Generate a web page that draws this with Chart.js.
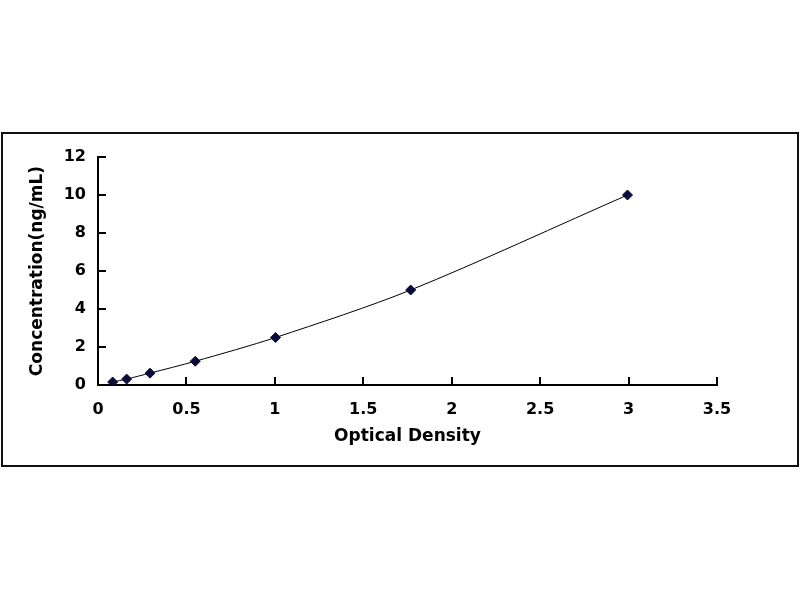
<!DOCTYPE html>
<html>
<head>
<meta charset="utf-8">
<script src="https://cdn.jsdelivr.net/npm/chart.js@4.4.1/dist/chart.umd.min.js"></script>
<style>
  html, body { margin: 0; padding: 0; background: #fff; }
  #wrap { position: relative; width: 800px; height: 600px; }
  #frame {
    position: absolute; left: 1px; top: 132px; width: 794px; height: 331px;
    border: 2px solid #111; pointer-events: none;
  }
</style>
</head>
<body>
<div id="wrap">
  <canvas id="curve" width="800" height="600"></canvas>
  <div id="frame"></div>
</div>
<script>
// standard curve readings
var opticalDensity = [0.083, 0.162, 0.294, 0.55, 1.004, 1.768, 2.994];
var concentration = [0.156, 0.312, 0.625, 1.25, 2.5, 5, 10];

// axis ticks
var xTickValues = [0, 0.5, 1, 1.5, 2, 2.5, 3, 3.5];
var yTickValues = [0, 2, 4, 6, 8, 10, 12];

var points = opticalDensity.map(function (od, i) {
    return { x: od, y: concentration[i] };
});

// short tick marks drawn inward from the axis lines
var innerTicks = {
    id: 'innerTicks',
    afterDraw: function (chart) {
        var ctx = chart.ctx;
        var xs = chart.scales.x, ys = chart.scales.y;
        ctx.save();
        ctx.strokeStyle = '#000';
        ctx.lineWidth = 2;
        ctx.beginPath();
        xs.ticks.forEach(function (t) {
            var px = Math.round(xs.getPixelForValue(t.value));
            ctx.moveTo(px, ys.bottom);
            ctx.lineTo(px, ys.bottom - 8);
        });
        ys.ticks.forEach(function (t) {
            var py = Math.round(ys.getPixelForValue(t.value));
            ctx.moveTo(xs.left, py);
            ctx.lineTo(xs.left + 8, py);
        });
        ctx.stroke();
        ctx.restore();
    }
};

var tickFont = { family: 'DejaVu Sans', size: 16, weight: 'bold' };
var titleFont = { family: 'DejaVu Sans', size: 17, weight: 'bold' };

new Chart(document.getElementById('curve').getContext('2d'), {
    type: 'scatter',
    data: {
        datasets: [{
            data: points,
            showLine: true,
            tension: 0.3,
            borderColor: '#000',
            borderWidth: 1,
            pointStyle: 'rectRot',
            pointRadius: 5,
            pointBackgroundColor: '#0b0b3b',
            pointBorderColor: '#0b0b3b',
            pointBorderWidth: 1
        }]
    },
    options: {
        responsive: false,
        animation: false,
        layout: { padding: { left: 0, top: 157, right: 83, bottom: 0 } },
        plugins: {
            legend: { display: false },
            tooltip: { enabled: false }
        },
        scales: {
            x: {
                type: 'linear',
                min: 0,
                max: 3.5,
                afterBuildTicks: function (scale) {
                    scale.ticks = xTickValues.map(function (v) { return { value: v }; });
                },
                afterFit: function (scale) { scale.height = 215; },
                grid: { display: false, drawTicks: false },
                border: { display: true, color: '#000', width: 2 },
                ticks: {
                    color: '#000', font: tickFont, padding: 15, maxRotation: 0,
                    callback: function (v) { return String(v); }
                },
                title: {
                    display: true,
                    text: 'Optical Density',
                    color: '#000',
                    font: titleFont,
                    padding: { top: 0, bottom: 153 }
                }
            },
            y: {
                type: 'linear',
                min: 0,
                max: 12,
                afterBuildTicks: function (scale) {
                    scale.ticks = yTickValues.map(function (v) { return { value: v }; });
                },
                afterFit: function (scale) { scale.width = 98; },
                grid: { display: false, drawTicks: false },
                border: { display: true, color: '#000', width: 2 },
                ticks: {
                    color: '#000', font: tickFont, padding: 12,
                    callback: function (v) { return String(v); }
                },
                title: {
                    display: true,
                    text: 'Concentration(ng/mL)',
                    color: '#000',
                    font: titleFont,
                    padding: { top: 27, bottom: 0 }
                }
            }
        }
    },
    plugins: [innerTicks]
});
</script>
</body>
</html>
